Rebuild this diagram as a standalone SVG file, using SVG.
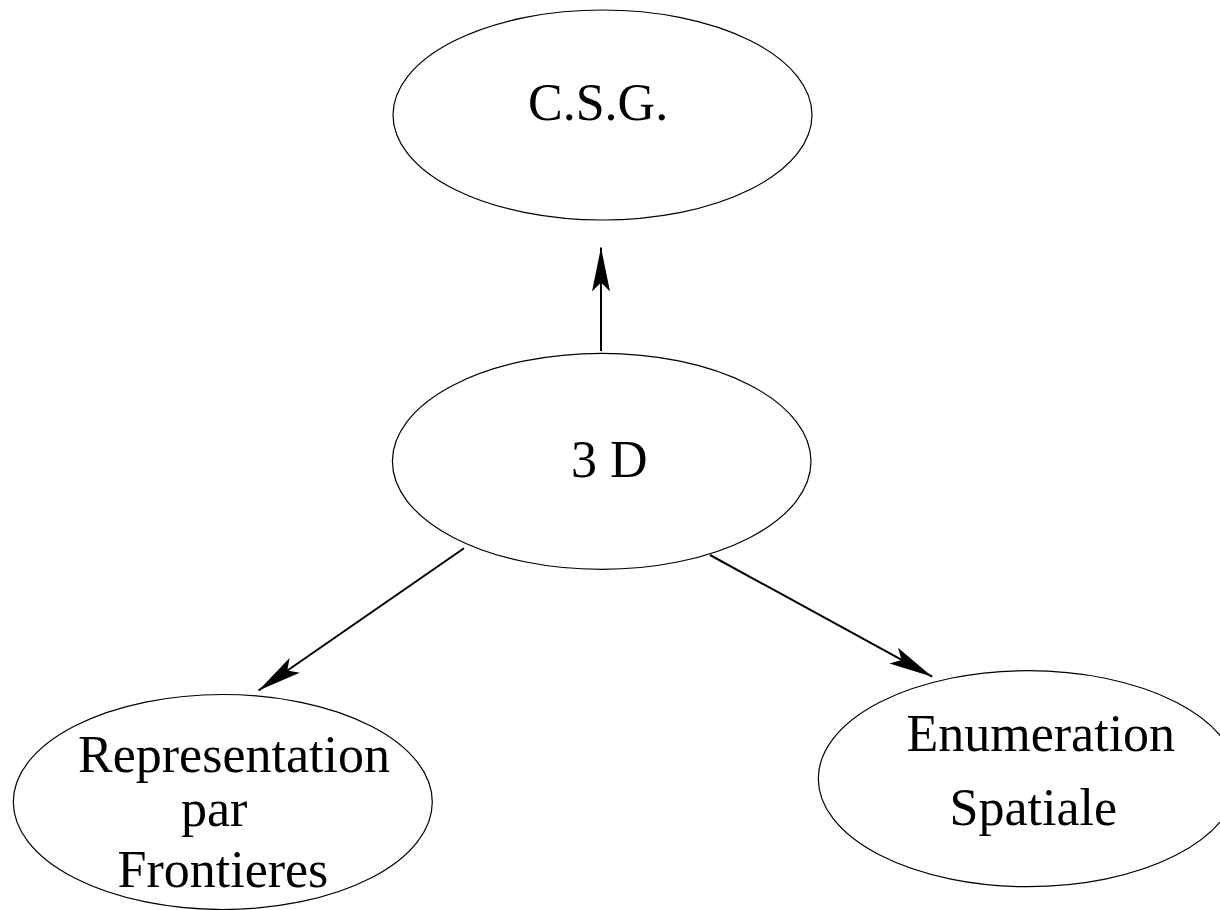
<svg xmlns="http://www.w3.org/2000/svg" width="1220" height="910" viewBox="0 0 1220 910">
<style>
.node ellipse{fill:#fff;stroke:#000;stroke-width:1.2}
.node text{font-family:"Liberation Serif","Times New Roman",serif;font-size:52px;fill:#000}
.conn line{stroke:#000;stroke-width:2;fill:none}
</style>
<defs>
<marker id="ah" markerUnits="userSpaceOnUse" viewBox="-44 -10 46 20" refX="0" refY="0" markerWidth="46" markerHeight="20" orient="auto" overflow="visible">
<path d="M0,0 L-44,-9 L-35,0 L-44,9 Z" fill="#000"/>
</marker>
</defs>
<rect width="1220" height="910" fill="#fff"/>
<g id="csg" class="node">
<ellipse cx="602.5" cy="115" rx="209.5" ry="105"/>
<text x="528" y="120">C.S.G.</text>
</g>
<g id="n3d" class="node">
<ellipse cx="601.7" cy="461.3" rx="209.3" ry="108"/>
<text x="571" y="477">3 D</text>
</g>
<g id="representation" class="node">
<ellipse cx="222.8" cy="802" rx="209.5" ry="107.5"/>
<text x="78" y="771.5">Representation</text>
<text x="181" y="826">par</text>
<text x="117.5" y="886.5">Frontieres</text>
</g>
<g id="enumeration" class="node">
<ellipse cx="1028" cy="778.7" rx="209.7" ry="108"/>
<text x="906.5" y="750.5">Enumeration</text>
<text x="949.5" y="825">Spatiale</text>
</g>
<g id="connectors" class="conn">
<line x1="601" y1="351" x2="601" y2="247.5" marker-end="url(#ah)"/>
<line x1="464" y1="548.3" x2="258.5" y2="690.5" marker-end="url(#ah)"/>
<line x1="710" y1="555" x2="932.3" y2="676.7" marker-end="url(#ah)"/>
</g>
</svg>
